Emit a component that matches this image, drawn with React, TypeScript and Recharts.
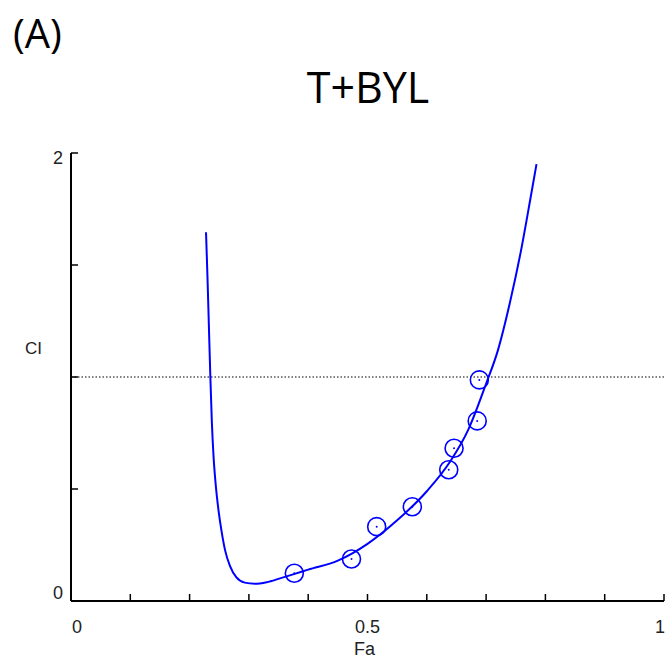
import React from 'react';
import {
  ComposedChart,
  Line,
  Scatter,
  XAxis,
  YAxis,
  ReferenceLine,
} from 'recharts';

// fitted CI curve
const curveFa = [
  0.2277, 0.23, 0.2325, 0.235, 0.2375, 0.2405, 0.244, 0.2485, 0.254, 0.26, 0.268, 0.279,
  0.293, 0.31, 0.33, 0.3524, 0.376, 0.4, 0.45, 0.5, 0.55, 0.6, 0.64, 0.67, 0.7, 0.72, 0.74,
  0.76, 0.775, 0.785,
];
const curveCI = [
  1.646, 1.46, 1.23, 1.0, 0.8, 0.64, 0.52, 0.41, 0.31, 0.225, 0.157, 0.105,
  0.082, 0.077, 0.084, 0.101, 0.12, 0.14, 0.18, 0.255, 0.36, 0.49, 0.625, 0.765, 0.97, 1.12, 1.33,
  1.58, 1.8, 1.95,
];

// observed combination points
const pointFa = [0.3766, 0.473, 0.5155, 0.5756, 0.637, 0.646, 0.685, 0.6886];
const pointCI = [0.124, 0.1875, 0.332, 0.421, 0.586, 0.682, 0.804, 0.987];

const xTicks = [0, 0.1, 0.2, 0.3, 0.4, 0.5, 0.6, 0.7, 0.8, 0.9, 1];
const yTicks = [0, 0.5, 1, 1.5, 2];
const xLabels: Record<string, string> = { '0': '0', '0.5': '0.5', '1': '1' };
const yLabels: Record<string, string> = { '0': '0', '2': '2' };

const curve = curveFa.map((x, i) => ({ x, y: curveCI[i] }));
const points = pointFa.map((x, i) => ({ x, y: pointCI[i] }));

const BLUE = '#0000ff';
const tickFont = { fontFamily: '"Liberation Sans", Arial, sans-serif', fontSize: 18, fill: '#222' };

function XTick(props: any) {
  const { x, y, payload } = props;
  const label = xLabels[String(payload.value)];
  if (!label) return <g />;
  // keep edge labels inside the box, as the original does
  const dx = payload.value === 0 ? 6 : payload.value === 1 ? -4 : 0;
  return (
    <text x={x + dx} y={y} textAnchor="middle" dominantBaseline="hanging" style={tickFont}>
      {label}
    </text>
  );
}

function YTick(props: any) {
  const { x, y, payload } = props;
  const label = yLabels[String(payload.value)];
  if (!label) return <g />;
  const dy = payload.value === 0 ? -8 : payload.value === 2 ? 5 : 0;
  return (
    <text x={x} y={y + dy} textAnchor="end" dominantBaseline="central" style={tickFont}>
      {label}
    </text>
  );
}

function Ring(props: any) {
  const { cx, cy } = props;
  return (
    <g>
      <circle cx={cx} cy={cy} r={9} fill="none" stroke={BLUE} strokeWidth={1.6} />
      <circle cx={cx} cy={cy} r={1} fill={BLUE} />
    </g>
  );
}

export default function App() {
  return (
    <div style={{ position: 'absolute', left: 0, top: 0, width: 665, height: 662, background: '#fff' }}>
      <div
        style={{
          position: 'absolute',
          left: 13,
          top: 8,
          fontFamily: '"Open Sans", sans-serif',
          fontSize: 40,
          lineHeight: '50px',
          color: '#000',
        }}
      >
        (A)
      </div>
      <div
        style={{
          position: 'absolute',
          left: 218,
          width: 300,
          top: 60,
          textAlign: 'center',
          fontFamily: '"Open Sans", sans-serif',
          fontSize: 43,
          lineHeight: '54px',
          color: '#000',
        }}
      >
        T+BYL
      </div>
      <div style={{ position: 'absolute', left: 25, top: 339, ...tickFont, fontSize: 17, lineHeight: '20px', color: '#222' }}>
        CI
      </div>
      <div style={{ position: 'absolute', left: 354, top: 638, ...tickFont, fontSize: 18, lineHeight: '22px', color: '#222' }}>
        Fa
      </div>
      <ComposedChart width={665} height={662} margin={{ top: 153, right: 1, left: 0, bottom: 0 }}>
        <XAxis
          type="number"
          dataKey="x"
          domain={[0, 1]}
          ticks={xTicks}
          interval={0}
          height={61}
          axisLine={{ stroke: '#000', strokeWidth: 2 }}
          tickLine={{ stroke: '#000', strokeWidth: 1.5 }}
          tickSize={-7}
          tickMargin={26}
          tick={<XTick />}
          allowDataOverflow
        />
        <YAxis
          type="number"
          dataKey="y"
          domain={[0, 2]}
          ticks={yTicks}
          interval={0}
          width={71}
          axisLine={{ stroke: '#000', strokeWidth: 2 }}
          tickLine={{ stroke: '#000', strokeWidth: 1.5 }}
          tickSize={-7}
          tickMargin={15}
          tick={<YTick />}
          allowDataOverflow
        />
        <ReferenceLine y={1} stroke="#000" strokeWidth={1.2} strokeDasharray="1.5 2" />
        <Line
          data={curve}
          dataKey="y"
          type="monotoneX"
          stroke={BLUE}
          strokeWidth={2}
          dot={false}
          activeDot={false}
          isAnimationActive={false}
        />
        <Scatter data={points} dataKey="y" shape={<Ring />} isAnimationActive={false} />
      </ComposedChart>
    </div>
  );
}
